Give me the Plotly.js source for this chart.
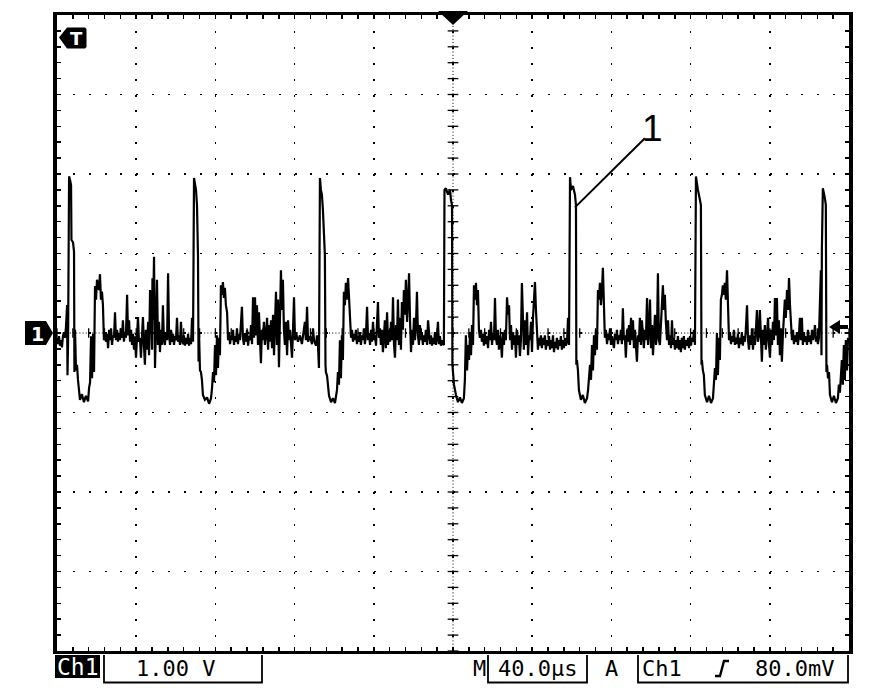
<!DOCTYPE html>
<html>
<head>
<meta charset="utf-8">
<script src="https://cdn.plot.ly/plotly-3.0.1.min.js"></script>
<style>
  html, body { margin: 0; padding: 0; background: #fff; }
  #chart { width: 886px; height: 694px; }
</style>
</head>
<body>
<div id="chart"></div>
<script>
// ---- Waveform: time in microseconds, amplitude in volts (Ch1, 1.00 V/div, 40.0 us/div) ----
const period1T = [0.0,0.5,1.0,1.5,2.0,2.5,3.0,3.5,4.0,4.5,5.1,5.3,5.6,6.1,6.6,7.1,7.3,8.1,8.6,8.8,9.1,9.6,10.1,10.6,11.1,11.6,12.6,13.6,14.6,15.7,16.2,16.7,17.2,17.7,18.2,18.7,19.2,19.7,20.2,21.2,21.7,22.2,22.7,23.2,23.7,
24.2,24.7,25.3,25.8,26.3,26.8,27.3,27.8,28.3,28.8,29.3,29.8,30.3,30.8,31.3,31.8,32.3,32.8,33.3,33.8,34.3,34.8,35.4,35.9,36.4,36.9,37.4,37.9,38.4,38.9,39.4,39.9,40.4,40.9,41.4,41.9,42.4,42.9,43.4,43.9,44.4,44.9,45.5,46.0,46.5,47.0,47.5,48.0,48.2,48.5,49.0,49.2,49.5,50.0,50.5,51.0,51.5,52.0,52.5,53.0,53.5,54.0,54.5,55.0,55.6,56.1,56.6,57.1,57.6,58.1,58.6,59.1,59.6,60.1,60.6,61.1,61.6,62.1,62.6,63.1,63.6,64.1,64.6,65.1,65.7,66.2,66.7,67.2,67.7,68.2,68.7];
const period1V = [-0.06,-0.14,-0.04,-0.16,-0.09,-0.18,-0.04,0.01,-0.06,0.06,0.35,-0.53,-0.09,1.97,1.92,1.86,1.17,1.14,1.02,-0.49,0.04,-0.47,-0.40,-0.59,-0.74,-0.84,-0.77,-0.87,-0.79,-0.86,-0.69,-0.62,-0.04,-0.57,-0.01,-0.49,0.59,0.42,0.67,0.54,0.74,0.42,0.52,0.35,-0.09,
0.01,-0.11,-0.01,-0.19,0.04,-0.09,0.06,-0.15,-0.03,-0.06,0.26,-0.09,0.04,-0.11,0.00,-0.09,0.06,-0.06,0.16,-0.11,0.01,-0.06,0.48,-0.03,0.16,-0.11,0.04,-0.15,-0.01,-0.21,-0.04,-0.31,0.01,0.20,-0.11,-0.06,-0.31,-0.03,0.20,-0.15,-0.40,0.04,-0.21,0.14,-0.28,0.54,0.29,-0.21,0.69,0.16,0.96,0.42,-0.44,0.10,0.67,-0.15,0.14,-0.24,0.04,-0.15,0.35,-0.09,-0.15,0.01,-0.09,0.75,-0.03,-0.15,0.04,-0.11,-0.01,-0.15,-0.04,-0.09,0.19,-0.11,-0.03,-0.15,0.14,-0.09,-0.14,-0.03,-0.16,-0.06,-0.14,-0.01,-0.16,-0.06,-0.14,0.19,-0.11];

const period2T = [69.2,69.7,70.2,70.7,71.2,71.5,71.7,72.2,72.7,73.2,73.7,74.7,75.8,76.8,77.8,78.3,78.8,79.3,79.8,80.3,80.8,81.3,81.8,82.3,82.8,83.3,83.8,84.3,84.8,85.3,85.9,86.4,
86.9,87.4,87.9,88.4,88.9,89.4,89.9,90.4,90.9,91.4,91.9,92.4,92.9,93.4,93.9,94.4,94.9,95.4,96.0,96.5,97.0,97.5,98.0,98.5,99.0,99.5,100.0,100.5,101.0,101.5,102.0,102.5,103.0,103.5,104.0,104.5,105.0,105.5,106.1,106.6,107.1,107.6,108.1,108.6,109.1,109.6,110.1,110.6,111.1,111.6,112.1,112.6,113.1,113.6,114.1,114.6,115.1,115.6,116.2,116.7,117.2,117.7,118.2,118.7,119.2,119.7,120.2,120.7,121.7,122.7,123.7,124.7,125.2,125.7,126.3,126.8,127.8,128.8,129.3,129.8,130.8,131.3,131.8,132.3];
const period2V = [1.95,1.89,1.80,1.61,0.98,-0.36,0.04,-0.47,-0.49,-0.59,-0.78,-0.84,-0.81,-0.89,-0.82,-0.69,-0.49,-0.62,-0.15,-0.53,-0.03,-0.44,-0.06,-0.28,0.60,0.48,0.64,0.44,0.57,0.35,0.26,-0.09,
0.01,-0.14,-0.03,-0.09,0.04,-0.15,-0.04,-0.11,0.06,-0.14,-0.01,-0.09,0.09,0.33,-0.06,-0.15,0.00,-0.11,0.04,-0.16,-0.04,-0.09,0.10,-0.14,0.45,-0.06,0.45,-0.03,0.35,-0.15,0.26,-0.21,-0.38,0.04,-0.09,0.14,-0.15,-0.03,0.19,-0.21,0.10,-0.11,0.16,-0.19,0.23,-0.28,0.31,0.52,-0.15,0.42,-0.43,0.54,0.79,0.29,0.67,0.04,-0.15,0.14,-0.28,0.16,-0.09,0.04,-0.21,-0.31,0.04,0.45,-0.09,0.01,-0.11,-0.03,-0.14,0.04,0.14,-0.09,0.33,-0.11,-0.04,-0.14,0.06,-0.09,-0.16,-0.03,-0.15,-0.44];

const period3T = [132.8,133.3,133.8,134.3,134.8,135.3,135.6,135.8,136.4,137.4,138.4,139.4,140.4,141.4,141.9,142.4,142.9,143.4,143.9,144.4,144.9,145.4,145.9,146.5,147.0,147.5,148.0,148.5,
149.0,149.5,150.0,150.5,151.0,151.5,152.0,152.5,153.0,153.5,154.0,154.5,155.0,155.5,156.0,156.6,157.1,157.6,158.1,158.6,159.1,159.6,160.1,160.6,161.1,161.6,162.1,162.6,163.1,163.6,164.1,164.6,165.1,165.6,166.1,166.7,167.2,167.7,168.2,168.7,169.2,169.7,170.2,170.7,171.2,171.7,172.2,172.7,173.2,173.7,174.2,174.7,175.2,175.7,176.2,176.8,177.3,177.8,178.3,178.8,179.3,179.8,180.3,180.8,181.3,181.8,182.3,182.8,183.3,183.8,184.3,184.8,185.3,185.8,186.3,186.9,187.4,187.9,188.4,188.9,189.4,189.9,190.4,190.9,191.4,191.9,192.4,192.9,193.4,193.9,194.4,194.9];
const period3V = [1.95,1.80,1.74,1.55,1.27,0.98,-0.40,-0.49,-0.54,-0.79,-0.87,-0.82,-0.88,-0.72,-0.49,-0.65,-0.09,-0.57,-0.03,-0.34,0.52,0.35,0.63,0.42,0.69,0.48,0.29,-0.06,
0.04,-0.11,-0.01,-0.09,0.04,-0.14,-0.04,-0.11,0.01,-0.15,-0.03,-0.09,0.06,-0.14,-0.04,0.33,-0.09,0.00,-0.15,0.04,-0.11,0.14,-0.09,-0.03,-0.16,0.04,0.39,-0.06,0.06,-0.15,0.04,-0.24,-0.03,0.16,-0.19,0.26,-0.15,0.04,-0.11,0.14,-0.09,0.45,-0.15,-0.31,0.10,-0.09,0.42,-0.15,0.19,-0.21,0.39,0.04,0.54,0.23,0.67,0.14,0.42,0.75,0.16,-0.24,0.04,-0.15,0.19,-0.09,0.10,0.52,-0.03,-0.15,0.10,-0.09,0.00,-0.15,-0.03,-0.11,0.04,-0.15,0.16,-0.06,-0.14,-0.03,-0.16,-0.06,-0.14,0.01,-0.15,-0.06,0.14,-0.14,-0.04,-0.16,-0.09,-0.14];

const period4T = [195.4,195.7,196.4,197.5,198.5,199.0,199.5,199.7,200.0,200.5,201.5,202.5,203.5,204.5,205.5,206.0,206.5,207.1,207.6,208.1,208.6,209.1,209.6,210.1,210.6,211.1,211.6,212.1,212.6,213.1,213.6,
214.1,214.6,215.1,215.6,216.1,216.6,217.2,217.7,218.2,218.7,219.2,219.7,220.2,220.7,221.2,221.7,222.2,222.7,223.2,223.7,224.2,224.7,225.2,225.7,226.2,226.7,227.3,227.8,228.3,228.8,229.3,229.8,230.3,230.8,231.3,231.8,232.3,232.8,233.3,233.8,234.3,234.8,235.3,235.8,236.3,236.8,237.4,237.9,238.4,238.9,239.4,239.9,240.4,240.9,241.4,241.9,242.4,242.9,243.4,243.9,244.4,244.9,245.4,245.9,246.4,246.9,247.5,248.0,248.5,249.0,249.5,250.0,250.5,251.0,251.5,252.0,252.5,253.0,253.5,254.0,254.5,255.0,255.5,256.0,256.5,257.0,257.6,258.1,258.6];
const period4V = [-0.15,1.80,1.82,1.74,1.80,1.67,1.61,-0.40,-0.49,-0.65,-0.78,-0.87,-0.81,-0.88,-0.82,-0.59,-0.03,-0.47,-0.15,-0.34,0.01,-0.28,0.10,-0.15,0.60,0.42,0.63,0.35,0.54,0.04,-0.06,
0.04,-0.11,-0.01,-0.16,0.01,-0.14,-0.04,-0.19,0.04,-0.09,0.14,-0.15,0.00,-0.09,0.44,-0.06,-0.15,0.04,-0.21,-0.03,-0.11,-0.31,0.01,-0.15,0.04,-0.09,0.45,0.23,0.35,-0.09,0.10,-0.21,0.01,-0.15,-0.03,-0.31,0.04,-0.15,-0.03,-0.29,-0.09,0.63,0.04,-0.21,0.16,-0.15,0.26,-0.28,-0.03,-0.09,0.14,-0.24,0.19,0.42,0.64,0.29,-0.09,-0.21,-0.06,-0.16,-0.03,-0.19,-0.06,-0.15,-0.03,-0.21,-0.09,-0.16,-0.04,-0.21,-0.09,-0.19,-0.03,-0.24,-0.11,-0.19,-0.06,-0.21,-0.09,-0.16,-0.04,-0.21,-0.09,-0.19,-0.06,-0.16,-0.11,0.19,-0.15];

const period5T = [259.1,259.6,260.6,261.6,262.1,262.3,262.6,263.1,263.6,264.6,265.6,266.6,267.7,268.2,268.7,269.2,269.7,270.2,270.7,271.2,271.7,272.2,272.7,273.2,273.7,274.2,274.7,275.2,275.7,276.2,276.7,
277.2,277.8,278.3,278.8,279.3,279.8,280.3,280.8,281.3,281.8,282.3,282.8,283.3,283.8,284.3,284.8,285.3,285.8,286.3,286.8,287.3,287.9,288.4,288.9,289.4,289.9,290.4,290.9,291.4,291.9,292.4,292.9,293.4,293.9,294.4,294.9,295.4,295.9,296.4,296.9,297.4,298.0,298.5,299.0,299.5,300.0,300.5,301.0,301.5,302.0,302.5,303.0,303.5,304.0,304.5,305.0,305.5,306.0,306.5,307.0,307.5,308.1,308.6,309.1,309.6,310.1,310.6,311.1,311.6,312.1,312.6,313.1,313.6,314.1,314.6,315.1,315.6,316.1,316.6,317.1,317.6,318.2,318.7,319.2,319.7,320.2,320.7,321.2,321.7,322.2];
const period5V = [1.96,1.80,1.85,1.74,1.61,-0.40,-0.34,-0.47,-0.72,-0.84,-0.78,-0.88,-0.82,-0.72,-0.57,-0.40,-0.59,-0.15,-0.47,-0.03,-0.28,0.04,-0.21,0.54,0.42,0.63,0.35,0.52,0.82,0.42,-0.06,
0.04,-0.14,-0.01,-0.09,0.06,-0.15,-0.04,-0.11,-0.19,-0.01,-0.09,0.04,-0.14,-0.03,-0.09,0.04,-0.14,0.31,-0.09,-0.03,-0.31,0.04,-0.11,0.10,-0.15,0.19,-0.09,0.16,-0.19,0.04,-0.15,-0.36,-0.03,-0.11,0.19,-0.15,0.16,-0.09,-0.19,0.04,-0.09,0.44,-0.15,0.01,0.42,-0.19,0.10,-0.28,0.04,0.23,-0.15,-0.03,0.75,-0.09,-0.15,0.16,0.42,0.60,0.29,0.48,0.14,-0.09,0.16,-0.15,-0.03,-0.19,0.16,-0.15,-0.06,-0.21,-0.09,-0.19,-0.04,-0.21,-0.09,-0.24,-0.06,-0.19,-0.04,-0.21,-0.09,-0.16,-0.06,-0.19,-0.04,-0.16,-0.06,-0.11,0.04,-0.15];

const period6T = [322.7,323.2,323.7,324.2,324.7,325.2,325.5,325.7,326.2,326.7,327.2,328.3,329.3,330.3,331.3,331.8,332.3,332.8,333.3,333.8,334.3,334.8,335.3,335.8,336.3,336.8,337.3,337.8,338.4,338.9,339.4,
339.9,340.4,340.9,341.4,341.9,342.4,342.9,343.4,343.9,344.4,344.9,345.4,345.9,346.4,346.9,347.4,347.9,348.5,349.0,349.5,350.0,350.5,351.0,351.5,352.0,352.5,353.0,353.5,354.0,354.5,355.0,355.5,356.0,356.5,357.0,357.5,358.0,358.6,359.1,359.6,360.1,360.6,361.1,361.6,362.1,362.6,363.1,363.6,364.1,364.6,365.1,365.6,366.1,366.6,367.1,367.6,368.1,368.7,369.2,369.7,370.2,370.7,371.2,371.7,372.2,372.7,373.2,373.7,374.2,374.7,375.2,375.7,376.2,376.7,377.2,377.7,378.2,378.8,379.3,379.8,380.3,380.8,381.3,381.8,382.3,382.8,383.3,383.8,384.3,384.8];
const period6V = [1.97,1.86,1.80,1.74,1.65,1.61,-0.40,-0.34,-0.47,-0.53,-0.78,-0.87,-0.79,-0.88,-0.82,-0.65,-0.44,-0.59,0.00,-0.53,-0.06,-0.34,0.42,0.48,0.60,0.48,0.63,0.42,0.79,0.35,-0.09,
0.01,-0.14,-0.04,-0.11,0.04,-0.15,-0.06,-0.14,-0.01,-0.19,-0.06,-0.14,0.01,-0.16,-0.04,-0.11,0.04,0.35,-0.09,-0.21,-0.03,-0.15,0.06,-0.21,-0.04,-0.15,0.04,0.29,-0.11,-0.03,0.29,-0.06,-0.36,0.04,-0.15,0.10,-0.21,-0.03,0.19,-0.15,-0.31,0.04,-0.15,0.14,-0.09,0.44,-0.03,0.44,-0.15,0.16,-0.28,0.06,-0.36,-0.03,0.23,0.42,0.19,0.54,0.29,0.69,0.35,0.19,-0.09,0.04,-0.14,-0.03,-0.11,0.01,-0.15,-0.03,0.19,-0.09,0.19,-0.15,0.01,-0.11,-0.04,-0.15,0.04,-0.11,-0.03,-0.14,0.04,-0.09,-0.03,0.10,-0.11,-0.04,-0.14,-0.06];

const period7T = [385.3,385.8,386.1,386.3,386.8,387.3,387.8,388.3,388.6,388.9,389.4,389.9,390.4,391.4,392.4,393.4,394.4,394.9,395.4,395.9,396.4,396.9,397.4,397.9,398.4,399.0,399.5];
const period7V = [0.42,0.79,-0.28,1.04,1.82,1.77,1.70,1.61,-0.49,-0.40,-0.57,-0.49,-0.78,-0.87,-0.79,-0.88,-0.82,-0.65,-0.75,-0.59,-0.34,-0.65,-0.15,-0.59,-0.09,-0.47,-0.06];

// ---- Screen settings and readouts ----
const timeRangeUs = [0, 400];      // 10 div x 40.0 us
const voltRange = [-4, 4];         // 8 div x 1.00 V
const usPerDiv = 40, voltsPerDiv = 1;
const readouts = { ch: 'Ch1', scale: '1.00 V', mLabel: 'M', timebase: '40.0\u00b5s', aLabel: 'A', trigSrc: 'Ch1', trigLevel: '80.0mV' };
const calloutLabel = '1';

// ---- build ----
const tUs = [].concat(period1T, period2T, period3T, period4T, period5T, period6T, period7T);
const volts = [].concat(period1V, period2V, period3V, period4V, period5V, period6V, period7V);
if (tUs.length !== volts.length) console.error('length mismatch', tUs.length, volts.length);

// pixel frame of the graticule, for decorations placed in paper coordinates
const L = 57, R = 849, T = 15, B = 651;
const X = p => (p - L) / (R - L);
const Y = p => (B - p) / (B - T);
const P = pts => pts.map((q, i) => (i ? 'L' : 'M') + X(q[0]).toFixed(5) + ',' + Y(q[1]).toFixed(5)).join(' ');

const shapes = [];
// fine-dotted centre lines
shapes.push({type:'line', xref:'x', yref:'y', x0:200, x1:200, y0:-4, y1:4, layer:'below', line:{color:'#000', width:1, dash:'1px,2.2px'}});
shapes.push({type:'line', xref:'x', yref:'y', x0:0, x1:400, y0:0, y1:0, layer:'below', line:{color:'#000', width:1, dash:'1px,2.2px'}});
// centre-axis ticks every 0.2 div
for (let k = 0; k <= 50; k++) {
  const t = k * usPerDiv / 5;
  shapes.push({type:'line', xref:'x', yref:'y', x0:t, x1:t, y0:-0.06, y1:0.06, layer:'below', line:{color:'#000', width:1.3}});
}
for (let k = 0; k <= 40; k++) {
  const v = voltRange[0] + k * voltsPerDiv / 5;
  shapes.push({type:'line', xref:'x', yref:'y', x0:197.3, x1:202.7, y0:v, y1:v, layer:'below', line:{color:'#000', width:1.3}});
}
// trigger position marker (top centre)
shapes.push({type:'path', xref:'paper', yref:'paper', path: P([[438,11],[468,11],[453,25]]) + ' Z', fillcolor:'#000', line:{width:0}});
// "T" marker (top left)
shapes.push({type:'path', xref:'paper', yref:'paper', path: P([[59,37.5],[67,27.5],[85,27.5],[86.5,29],[86.5,47],[85,48.5],[67,48.5]]) + ' Z', fillcolor:'#000', line:{width:0}});
// ground marker "1" (left)
shapes.push({type:'path', xref:'paper', yref:'paper', path: P([[25,321],[46,321],[53,333],[46,345],[25,345]]) + ' Z', fillcolor:'#000', line:{width:0}});
// trigger level arrow (right)
shapes.push({type:'path', xref:'paper', yref:'paper', path: P([[829,327],[840,320],[840,334]]) + ' Z', fillcolor:'#000', line:{width:0}});
shapes.push({type:'line', xref:'paper', yref:'paper', x0:X(838), x1:X(848), y0:Y(327), y1:Y(327), line:{color:'#000', width:4}});
// callout line to label "1"
shapes.push({type:'line', xref:'x', yref:'y', x0:261.6, y0:1.58, x1:296.9, y1:2.45, line:{color:'#000', width:2}});
// status bar
shapes.push({type:'rect', xref:'paper', yref:'paper', x0:X(55), x1:X(100), y0:Y(655), y1:Y(678), fillcolor:'#000', line:{width:0}});
shapes.push({type:'path', xref:'paper', yref:'paper', path: P([[104,655],[104,682.5],[262,682.5],[262,655]]), line:{color:'#000', width:1.8}});
shapes.push({type:'path', xref:'paper', yref:'paper', path: P([[488,655],[488,682.5],[587,682.5],[587,655]]), line:{color:'#000', width:1.8}});
shapes.push({type:'path', xref:'paper', yref:'paper', path: P([[638,655],[638,682.5],[848,682.5],[848,655]]), line:{color:'#000', width:1.8}});
// rising-slope glyph
shapes.push({type:'path', xref:'paper', yref:'paper', path: P([[715,676],[720,676],[724,661],[729,661]]), line:{color:'#000', width:2.4}});

const mono = 'DejaVu Sans Mono, monospace';
const ann = (txt, x, y, opts) => Object.assign({text: txt, xref:'paper', yref:'paper', x: X(x), y: Y(y), showarrow:false, xanchor:'center', yanchor:'middle',
  font:{family: mono, size: 22, color:'#000'}}, opts || {});
const annotations = [
  ann(calloutLabel, 652, 129, {font:{family:'Liberation Sans, Arial, sans-serif', size:37, color:'#000'}}),
  ann('T', 76.5, 38.5, {font:{family:'DejaVu Sans, sans-serif', size:18, color:'#fff', weight:'bold'}}),
  ann('1', 37, 334, {font:{family:'DejaVu Sans, sans-serif', size:19, color:'#fff', weight:'bold'}}),
  ann(readouts.ch, 77.5, 667, {font:{family: mono, size:23, color:'#fff'}}),
  ann(readouts.scale, 175, 668),
  ann(readouts.mLabel, 479, 668),
  ann(readouts.timebase, 537, 668),
  ann(readouts.aLabel, 611, 668),
  ann(readouts.trigSrc, 662, 668),
  ann(readouts.trigLevel, 794, 668)
];

const trace = {x: tUs, y: volts, type:'scatter', mode:'lines', line:{color:'#000', width:2.2}, hoverinfo:'skip', cliponaxis:true};

const layout = {
  width: 886, height: 694,
  margin: {l: L, r: 886 - R, t: T, b: 694 - B, pad: 0},
  paper_bgcolor: '#fff', plot_bgcolor: '#fff',
  showlegend: false,
  xaxis: {range: timeRangeUs, tick0: 0, dtick: usPerDiv, showgrid: true, gridcolor: '#000', gridwidth: 1.6, griddash: '2px,13.9px',
    zeroline: false, showline: true, linecolor: '#000', linewidth: 3, mirror: 'ticks', ticks: 'inside', ticklen: 4, tickwidth: 1.5, tickcolor: '#000',
    showticklabels: false, fixedrange: true,
    minor: {dtick: usPerDiv / 5, ticks: 'inside', ticklen: 4, tickwidth: 1.5, tickcolor: '#000', showgrid: false}},
  yaxis: {range: voltRange, tick0: 0, dtick: voltsPerDiv, showgrid: true, gridcolor: '#000', gridwidth: 1.6, griddash: '2px,13.84px',
    zeroline: false, showline: true, linecolor: '#000', linewidth: 4, mirror: 'ticks', ticks: 'inside', ticklen: 4, tickwidth: 1.5, tickcolor: '#000',
    showticklabels: false, fixedrange: true,
    minor: {dtick: voltsPerDiv / 5, ticks: 'inside', ticklen: 4, tickwidth: 1.5, tickcolor: '#000', showgrid: false}},
  shapes: shapes,
  annotations: annotations
};

Plotly.newPlot('chart', [trace], layout, {staticPlot: true, displayModeBar: false});
</script>
</body>
</html>
